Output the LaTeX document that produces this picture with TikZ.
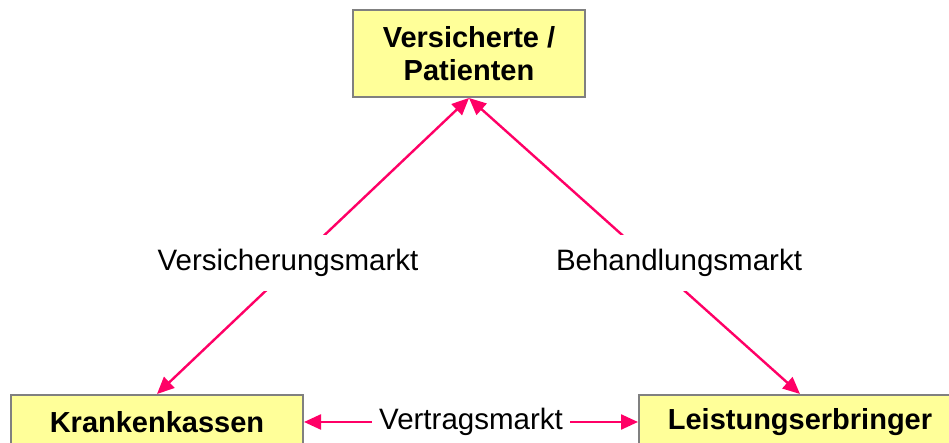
\documentclass[tikz,border=0pt]{standalone}
\usepackage{fontspec}
\setmainfont{Liberation Sans}
\usetikzlibrary{arrows.meta}
\definecolor{boxgelb}{HTML}{FFFF99}
\definecolor{boxrand}{HTML}{808080}
\definecolor{pfeilrot}{HTML}{FF0066}
\tikzset{
  akteur/.style={draw=boxrand, line width=1pt, fill=boxgelb, align=center,
    font=\fontsize{14.5}{16.6}\selectfont\bfseries, minimum height=27pt, inner sep=0pt},
  markt/.style={fill=white, font=\fontsize{14.75}{17}\selectfont,
    inner xsep=3.5pt, inner ysep=0pt, minimum height=28pt},
  pfeil/.style={draw=pfeilrot, line width=1.2pt, >={Triangle[length=8.5pt,width=7.5pt]}, <->}
}
\begin{document}
\begin{tikzpicture}[x=0.5pt,y=0.5pt]
\useasboundingbox (0,0) rectangle (949,443);
% die drei Akteure
\node[akteur, minimum width=116pt, minimum height=43.5pt] (pat) at (469,389.5) {Versicherte /\\Patienten};
\node[akteur, minimum width=146pt] (kk) at (157,21) {Krankenkassen};
\node[akteur, minimum width=161pt] (le) at (800,21) {Leistungserbringer};
% Maerkte
\draw[pfeil] (kk.north) -- (pat.south);
\draw[pfeil] (le.north) -- (pat.south);
\draw[pfeil] (kk.east) -- node[markt] (vtm) {Vertragsmarkt} (le.west);
\node[markt] (vm) at (288,180) {Versicherungsmarkt};
\node[markt] (bm) at (679,180) {Behandlungsmarkt};
\end{tikzpicture}
\end{document}
